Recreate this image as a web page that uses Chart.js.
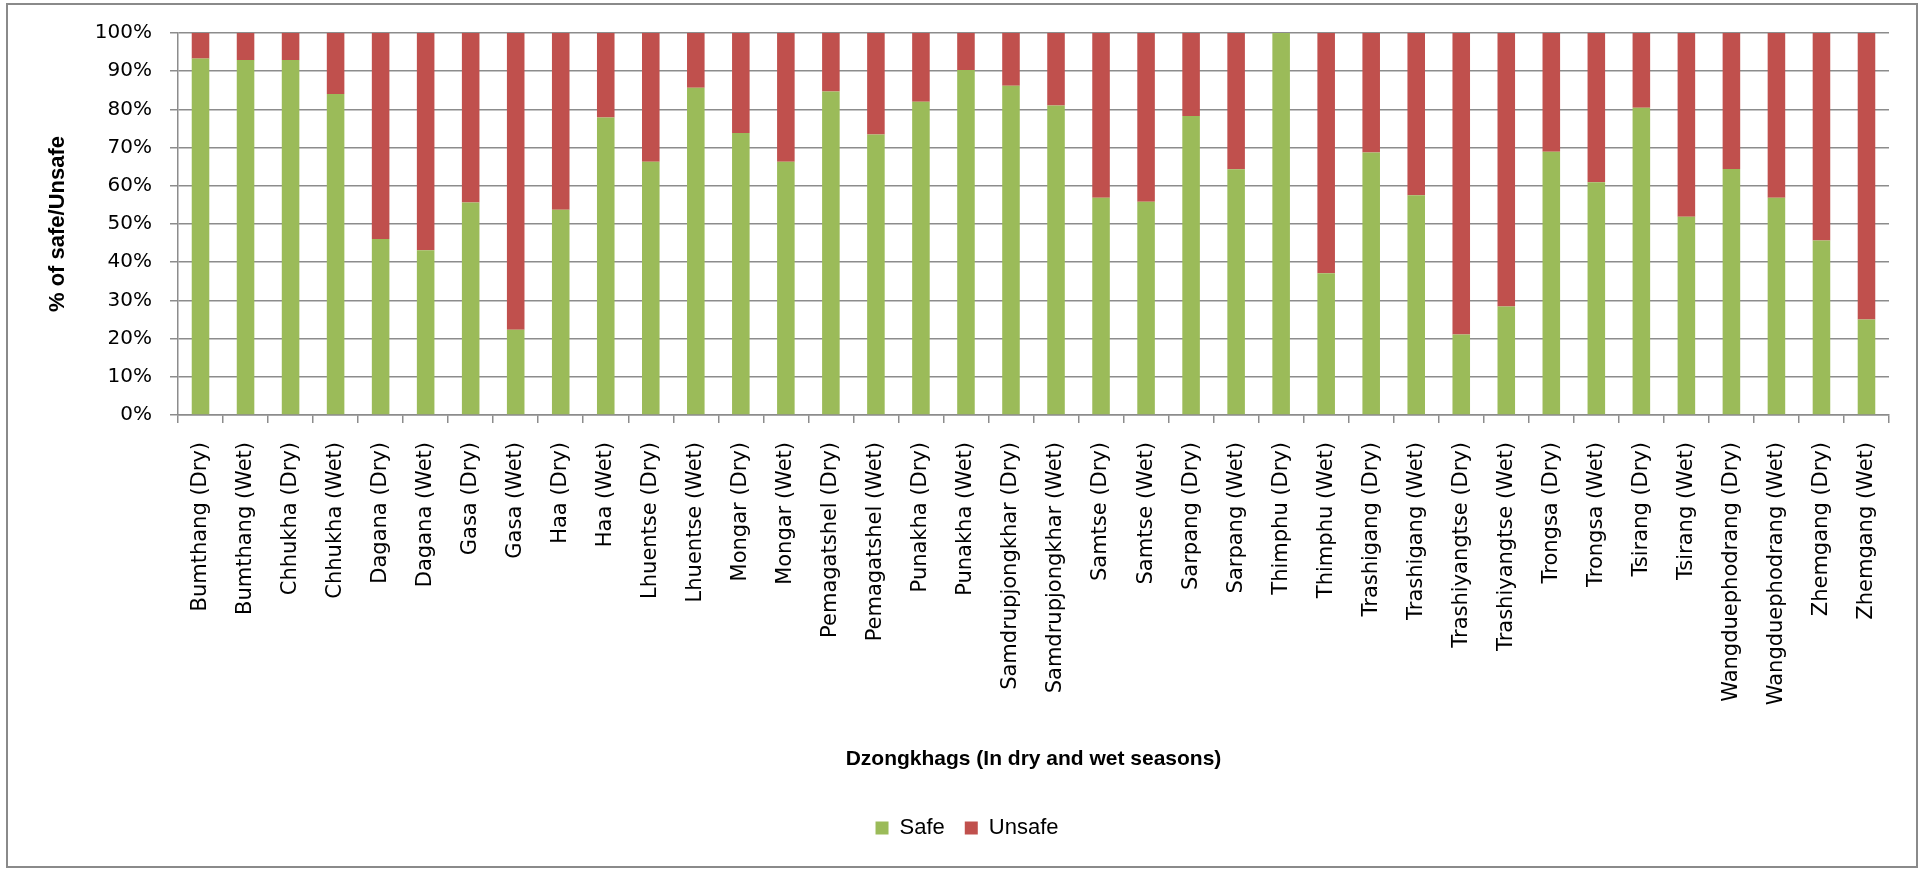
<!DOCTYPE html>
<html lang="en">
<head>
  <meta charset="UTF-8" />
  <title>Safe / Unsafe by Dzongkhag</title>
  <script src="https://cdn.jsdelivr.net/npm/chart.js"></script>
  <style>
    html, body { margin: 0; padding: 0; background: #fff; overflow: hidden; }
    .chart-wrap { position: relative; width: 1925px; height: 870px; }
  </style>
</head>
<body>

<div class="chart-wrap">
  <canvas id="safeChart" role="img" aria-label="% of safe/Unsafe by Dzongkhag, dry and wet seasons"></canvas>
</div>

<script>
  const categories = [
    'Bumthang (Dry)', 'Bumthang (Wet)', 'Chhukha (Dry)', 'Chhukha (Wet)',
    'Dagana (Dry)', 'Dagana (Wet)', 'Gasa (Dry)', 'Gasa (Wet)',
    'Haa (Dry)', 'Haa (Wet)', 'Lhuentse (Dry)', 'Lhuentse (Wet)',
    'Mongar (Dry)', 'Mongar (Wet)', 'Pemagatshel (Dry)', 'Pemagatshel (Wet)',
    'Punakha (Dry)', 'Punakha (Wet)', 'Samdrupjongkhar (Dry)', 'Samdrupjongkhar (Wet)',
    'Samtse (Dry)', 'Samtse (Wet)', 'Sarpang (Dry)', 'Sarpang (Wet)',
    'Thimphu (Dry)', 'Thimphu (Wet)', 'Trashigang (Dry)', 'Trashigang (Wet)',
    'Trashiyangtse (Dry)', 'Trashiyangtse (Wet)', 'Trongsa (Dry)', 'Trongsa (Wet)',
    'Tsirang (Dry)', 'Tsirang (Wet)', 'Wangduephodrang (Dry)', 'Wangduephodrang (Wet)',
    'Zhemgang (Dry)', 'Zhemgang (Wet)'
  ];

  const safeValues = [
    93.3, 92.9, 92.9, 84.0, 46.1, 43.1, 55.6, 22.3, 53.7, 77.9,
    66.3, 85.7, 73.8, 66.3, 84.7, 73.4, 82.0, 90.3, 86.2, 81.0,
    56.9, 55.8, 78.3, 64.3, 100, 37.1, 68.7, 57.5, 21.1, 28.4,
    68.9, 60.9, 80.4, 51.9, 64.4, 56.9, 45.7, 25.0
  ];

  const unsafeValues = [
    6.7, 7.1, 7.1, 16.0, 53.9, 56.9, 44.4, 77.7, 46.3, 22.1,
    33.7, 14.3, 26.2, 33.7, 15.3, 26.6, 18.0, 9.7, 13.8, 19.0,
    43.1, 44.2, 21.7, 35.7, 0, 62.9, 31.3, 42.5, 78.9, 71.6,
    31.1, 39.1, 19.6, 48.1, 35.6, 43.1, 54.3, 75.0
  ];

  const yTicks = [0, 10, 20, 30, 40, 50, 60, 70, 80, 90, 100];

  const gridGray = '#8c8c8c';
  const labelFont = "'DejaVu Sans', Verdana, sans-serif";
  const titleFont = "'Liberation Sans', Arial, sans-serif";

  // outer frame like the spreadsheet chart box
  const frame = {
    id: 'frame',
    beforeDraw(chart) {
      const ctx = chart.ctx;
      ctx.save();
      ctx.fillStyle = '#fff';
      ctx.fillRect(0, 0, chart.width, chart.height);
      ctx.strokeStyle = '#8a8a8a';
      ctx.lineWidth = 2;
      ctx.strokeRect(7, 4, 1910, 863);
      ctx.restore();
    }
  };

  new Chart(document.getElementById('safeChart'), {
    type: 'bar',
    data: {
      labels: categories,
      datasets: [
        { label: 'Safe', data: safeValues, backgroundColor: '#9bbb59' },
        { label: 'Unsafe', data: unsafeValues, backgroundColor: '#c0504d' }
      ]
    },
    options: {
      responsive: true,
      maintainAspectRatio: false,
      animation: false,
      devicePixelRatio: 1,
      barPercentage: 0.39,
      categoryPercentage: 1,
      layout: { padding: { left: 45, right: 36, top: 33, bottom: 21 } },
      plugins: {
        tooltip: { enabled: false },
        legend: {
          position: 'bottom',
          labels: {
            boxWidth: 13,
            boxHeight: 13,
            padding: 20,
            color: '#000',
            font: { family: titleFont, size: 22 }
          }
        }
      },
      scales: {
        x: {
          stacked: true,
          afterFit(scale) { scale.height = 382; },
          grid: { offset: true, drawOnChartArea: false, drawTicks: true, tickLength: 8, color: gridGray, lineWidth: 1.5 },
          border: { display: true, color: gridGray, width: 1.5 },
          ticks: {
            autoSkip: false,
            minRotation: 90,
            maxRotation: 90,
            padding: 19,
            color: '#000',
            font: { family: labelFont, size: 21 }
          },
          title: {
            display: true,
            text: 'Dzongkhags (In dry and wet seasons)',
            color: '#000',
            padding: { top: 0, bottom: 25 },
            font: { family: titleFont, size: 21, weight: 'bold' }
          }
        },
        y: {
          stacked: true,
          min: 0,
          max: 100,
          afterFit(scale) { scale.width = 133; },
          afterBuildTicks(scale) { scale.ticks = yTicks.map(v => ({ value: v })); },
          grid: { tickLength: 8, color: gridGray, lineWidth: 1.5 },
          border: { display: true, color: gridGray, width: 1.5 },
          ticks: {
            padding: 18,
            color: '#000',
            font: { family: labelFont, size: 20 },
            callback: v => v + '%'
          },
          title: {
            display: true,
            text: '% of safe/Unsafe',
            color: '#000',
            padding: { top: 0, bottom: 0 },
            font: { family: titleFont, size: 22, weight: 'bold' }
          }
        }
      }
    },
    plugins: [frame]
  });
</script>

</body>
</html>
